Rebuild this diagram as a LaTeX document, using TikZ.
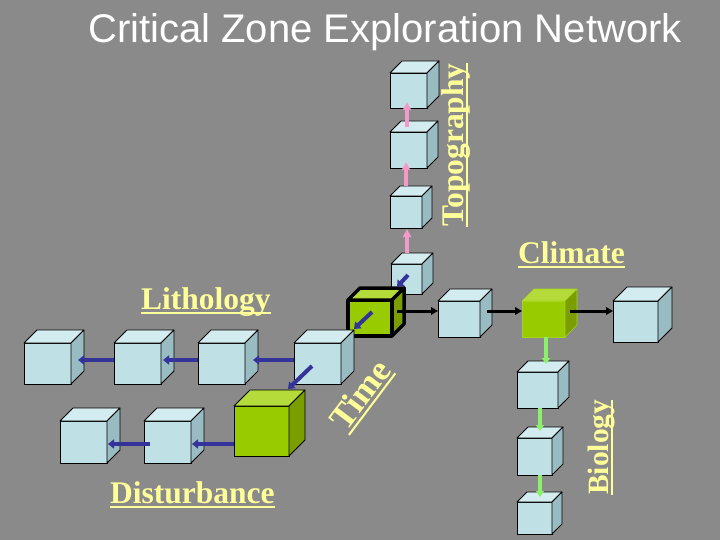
\documentclass[tikz,border=0pt]{standalone}
\usepackage{fontspec}
\setmainfont{Liberation Serif}
\newfontfamily\titlefont{Liberation Sans}
\usetikzlibrary{arrows.meta,calc}
\definecolor{bg}{HTML}{8A8A8A}
\definecolor{ltF}{HTML}{BFE0E5}
\definecolor{ltT}{HTML}{D3ECEF}
\definecolor{ltS}{HTML}{98BCC2}
\definecolor{grF}{HTML}{99CC00}
\definecolor{grT}{HTML}{B5DB3A}
\definecolor{grS}{HTML}{7A9E00}
\definecolor{clE}{HTML}{A6D41A}
\definecolor{lblyellow}{HTML}{FFFF99}
\definecolor{pinkarr}{HTML}{F49AC8}
\definecolor{bluearr}{HTML}{333399}
\definecolor{greenarr}{HTML}{8CF06A}
\newcommand\yul[1]{\setbox0=\hbox{#1}\rlap{\rule[-4.5pt]{\wd0}{2pt}}\box0}
\newcommand\drawcube[8]{%
  \node[anchor=north west, inner sep=0pt, outer sep=0pt, fill=#7F, #8,
        minimum width=#4pt, minimum height=#5pt] (#1) at (#2,#3) {};
  \path[fill=#7T, #8] (#1.north west) -- ++(#6pt,#6pt) -- ++(#4pt,0pt) -- (#1.north east) -- cycle;
  \path[fill=#7S, #8] (#1.north east) -- ++(#6pt,#6pt) -- ++(0pt,-#5pt) -- (#1.south east) -- cycle;
}
\begin{document}
\begin{tikzpicture}[x=1pt,y=-1pt,
  edgethin/.style={draw=black, line width=0.8pt, line join=round},
  edgethick/.style={draw=black, line width=3.5pt, line join=round},
  edgeclim/.style={draw=clE, line width=0.6pt, line join=round},
  pinkarrow/.style={draw=pinkarr, line width=3.5pt, -{Triangle[length=8pt,width=8pt]}},
  bluearrow/.style={draw=bluearr, line width=4pt, -{Triangle[length=6pt,width=9pt]}},
  blackarrow/.style={draw=black, line width=3pt, -{Triangle[length=7pt,width=7.5pt]}},
  greenarrow/.style={draw=greenarr, line width=4pt, -{Triangle[length=6pt,width=8pt]}},
  lbl/.style={text=lblyellow, inner sep=0pt, font=\fontsize{31.5}{36}\selectfont\bfseries}]
\useasboundingbox (0,0) rectangle (720,540);
\fill[bg] (0,0) rectangle (720,540);

% title
\node[anchor=base west, inner sep=0pt, text=white,
      font=\titlefont\fontsize{40}{48}\selectfont] (title) at (88,43) {Critical Zone Exploration Network};

% topography column
\drawcube{T1}{390}{73}{37}{35}{12}{lt}{edgethin}
\drawcube{T2}{390}{132}{37}{36}{11}{lt}{edgethin}
\drawcube{T3}{390}{196}{32}{32}{10}{lt}{edgethin}
\drawcube{T4}{391}{264}{31}{30}{11}{lt}{edgethin}
% centre cube
\drawcube{C0}{348}{300}{44}{36}{12}{gr}{edgethick}
% lithology row
\drawcube{D}{294}{343}{47}{41}{13}{lt}{edgethin}
\drawcube{Cc}{198}{343}{47}{41}{13}{lt}{edgethin}
\drawcube{Bb}{114}{343}{47}{41}{13}{lt}{edgethin}
\drawcube{A}{24}{343}{47}{41}{13}{lt}{edgethin}
% disturbance row
\drawcube{E}{234}{406}{55}{50}{16}{gr}{edgethin}
\drawcube{F}{144}{421}{47}{42}{13}{lt}{edgethin}
\drawcube{G}{60}{421}{47}{42}{13}{lt}{edgethin}
% climate row
\drawcube{R1}{438}{301}{42}{36}{12}{lt}{edgethin}
\drawcube{CL}{522}{301}{43}{36}{12}{gr}{edgeclim}
\drawcube{R3}{613}{301}{45}{41}{14}{lt}{edgethin}
% biology column
\drawcube{B1}{517}{372}{41}{36}{11}{lt}{edgethin}
\drawcube{B2}{517}{438}{35}{37}{11}{lt}{edgethin}
\drawcube{B3}{517}{502}{35}{32}{10}{lt}{edgethin}

% topography arrows
\draw[pinkarrow] ($(T4.north west)+(16,-11)$) -- ($(T3.north west)+(17,33)$);
\draw[pinkarrow] ($(T3.north west)+(16,-10)$) -- ($(T2.north west)+(16,30)$);
\draw[pinkarrow] ($(T2.north west)+(17,-5)$) -- ($(T1.north west)+(17,29)$);

% time arrows
\draw[bluearrow] ($(T4.north west)+(17,11)$) -- ($(C0.north west)+(49,-13)$);
\draw[bluearrow] ($(C0.north west)+(24,12)$) -- ($(D.north west)+(60,-14)$);
\draw[bluearrow] ($(D.north west)+(18,23)$) -- ($(E.north west)+(54,-17)$);

% lithology arrows
\draw[bluearrow] ($(D.north west)+(0,17)$) -- ($(Cc.north west)+(55,17)$);
\draw[bluearrow] ($(Cc.north west)+(0,17)$) -- ($(Bb.north west)+(49,17)$);
\draw[bluearrow] ($(Bb.north west)+(0,17)$) -- ($(A.north west)+(54,17)$);

% disturbance arrows
\draw[bluearrow] ($(E.north west)+(0,38)$) -- ($(F.north west)+(48,23)$);
\draw[bluearrow] ($(F.north west)+(6,23)$) -- ($(G.north west)+(48,23)$);

% climate arrows
\draw[blackarrow] ($(C0.north west)+(49,11)$) -- ($(R1.north west)+(0,10)$);
\draw[blackarrow] ($(R1.north west)+(49,10)$) -- ($(CL.north west)+(0,10)$);
\draw[blackarrow] ($(CL.north west)+(48,10)$) -- ($(R3.north west)+(0,10)$);

% biology arrows
\draw[greenarrow] ($(CL.north west)+(24,36)$) -- ($(B1.north west)+(29,-8)$);
\draw[greenarrow] ($(B1.north west)+(23,36)$) -- ($(B2.north west)+(23,-7)$);
\draw[greenarrow] ($(B2.north west)+(23,37)$) -- ($(B3.north west)+(23,-5)$);

% labels
\node[lbl, anchor=base west] (climate) at (518,263) {\yul{Climate}};
\node[lbl, anchor=base west] (lithology) at (141,309) {\yul{Lithology}};
\node[lbl, anchor=base west] (disturbance) at (110,503) {\yul{Disturbance}};
\node[lbl, anchor=base west, rotate=90] (topography) at (463,227) {\yul{Topography}};
\node[lbl, anchor=base west, rotate=90, font=\fontsize{29.5}{34}\selectfont\bfseries] (biology) at (608,495) {\yul{Biology}};
\node[lbl, anchor=base west, rotate=53, font=\fontsize{35}{40}\selectfont\bfseries] (time) at (346,433) {\yul{Time}};
\end{tikzpicture}
\end{document}
